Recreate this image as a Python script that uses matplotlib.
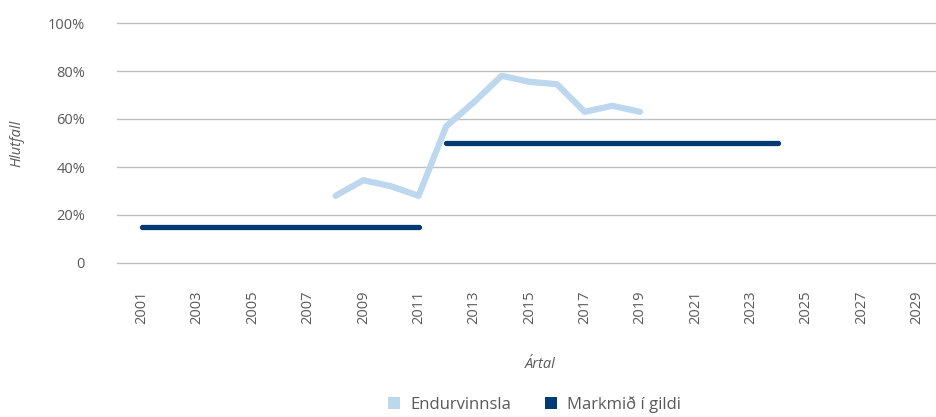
import matplotlib

matplotlib.use("Agg")
import matplotlib.pyplot as plt
from matplotlib.patches import Patch

plt.rcParams["font.family"] = ["Open Sans", "DejaVu Sans"]

# Endurvinnsla (recycling rate)
recycling_years = [2008, 2009, 2010, 2011, 2012, 2013, 2014, 2015, 2016, 2017, 2018, 2019]
recycling_values = [28, 34.5, 32, 28, 57, 67, 78, 75.5, 74.5, 63, 65.5, 63]

# Markmið í gildi (target in force)
target_years_1 = [2001, 2011]
target_values_1 = [15, 15]
target_years_2 = [2012, 2024]
target_values_2 = [50, 50]

x_ticks = list(range(2001, 2030, 2))
y_ticks = [0, 20, 40, 60, 80, 100]
y_labels = ["0", "20%", "40%", "60%", "80%", "100%"]

light_blue = "#BDD7EE"
navy = "#003A75"
text_color = "#595959"

fig = plt.figure(figsize=(9.36, 4.17), dpi=100)
ax = fig.add_axes([117 / 936, 154 / 417, 819 / 936, 240 / 417])

ax.plot(recycling_years, recycling_values, color=light_blue, linewidth=4.5,
        solid_capstyle="round", solid_joinstyle="round", zorder=3)
ax.plot(target_years_1, target_values_1, color=navy, linewidth=3.8,
        solid_capstyle="round", zorder=4)
ax.plot(target_years_2, target_values_2, color=navy, linewidth=3.8,
        solid_capstyle="round", zorder=4)

ax.set_xlim(2000.1, 2029.7)
ax.set_ylim(0, 100)
ax.set_yticks(y_ticks)
ax.set_yticklabels(y_labels)
ax.set_xticks(x_ticks)
ax.set_xticklabels([str(y) for y in x_ticks], rotation=90)

ax.grid(True, axis="y", color="#BFBFBF", linewidth=1)
ax.set_axisbelow(True)
for line in ax.get_ygridlines():
    line.set_clip_on(False)
for spine in ax.spines.values():
    spine.set_visible(False)
ax.tick_params(axis="both", length=0, labelsize=10.5, colors=text_color)
ax.tick_params(axis="x", pad=20)
ax.tick_params(axis="y", pad=23)

ax.set_ylabel("Hlutfall", fontsize=10.5, style="italic", color=text_color)
ax.yaxis.set_label_coords(-0.113, 0.5)
ax.set_xlabel("Ártal", fontsize=10.5, style="italic", color=text_color)
ax.xaxis.set_label_coords(0.517, -0.39)

handles = [
    Patch(facecolor=light_blue, edgecolor="none", label="Endurvinnsla"),
    Patch(facecolor=navy, edgecolor="none", label="Markmið í gildi"),
]
fig.legend(handles=handles, loc="center", bbox_to_anchor=(0.571, 0.03),
           ncol=2, frameon=False, fontsize=12, handlelength=0.75, handleheight=0.75,
           columnspacing=2.0, handletextpad=0.6, labelcolor=text_color)

fig.savefig("out.png", dpi=100)
plt.close(fig)
